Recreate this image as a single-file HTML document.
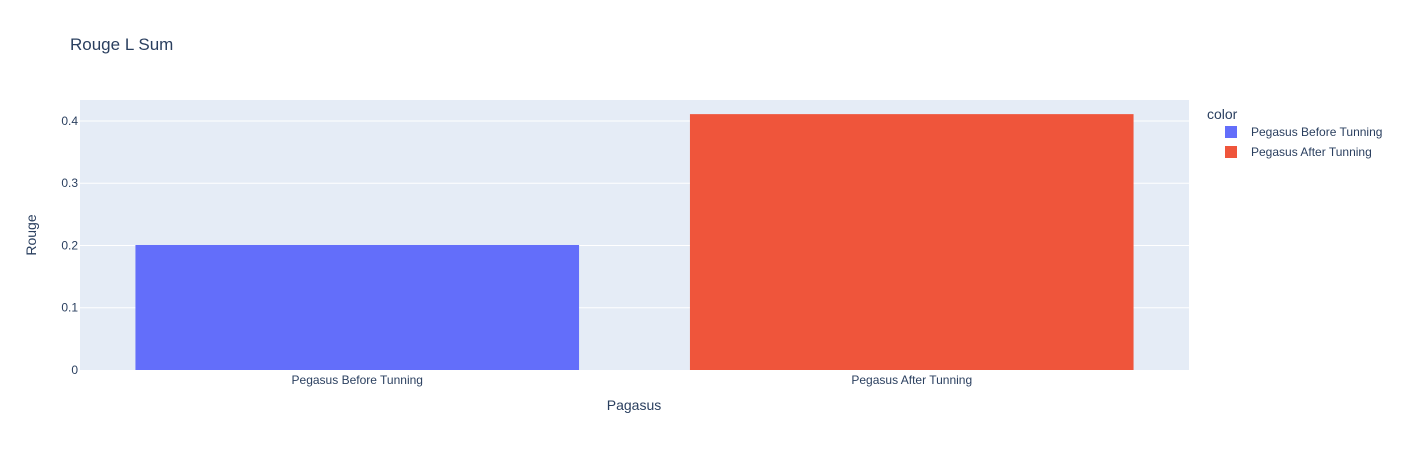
<!DOCTYPE html>
<html><head><meta charset="utf-8"><style>
body{margin:0;background:#fff;font-family:"Liberation Sans",Arial,sans-serif;}
svg text{font-family:"Liberation Sans",Arial,sans-serif;}
</style></head><body>
<svg id="chart" width="1412" height="450" xmlns="http://www.w3.org/2000/svg">
<rect width="1412" height="450" fill="#fff"/>
<text x="70" y="50" font-size="17" fill="#2a3f5f">Rouge L Sum</text>
<rect x="80" y="100" width="1109" height="270" fill="#e5ecf6"/>
<g id="grid"></g><g id="bars"></g><g id="ticks"></g>
<text x="634" y="410" font-size="14" fill="#2a3f5f" text-anchor="middle">Pagasus</text>
<text transform="translate(36,235) rotate(-90)" font-size="14" fill="#2a3f5f" text-anchor="middle">Rouge</text>
<text x="1207" y="119" font-size="14" fill="#2a3f5f">color</text>
<g><rect x="1225" y="126" width="12" height="12" fill="#636efa"/><text x="1251" y="136" font-size="12" fill="#2a3f5f">Pegasus Before Tunning</text></g>
<g><rect x="1225" y="146" width="12" height="12" fill="#ef553b"/><text x="1251" y="156" font-size="12" fill="#2a3f5f">Pegasus After Tunning</text></g>
</svg>
<script>
const categories=["Pegasus Before Tunning","Pegasus After Tunning"];
const values=[0.2008,0.411];
const colors=["#636efa","#ef553b"];
const yTicks=[0,0.1,0.2,0.3,0.4];
const yTickLabels=["0","0.1","0.2","0.3","0.4"];
const NS="http://www.w3.org/2000/svg";
const L=80,R=1189,T=100,B=370,yMax=0.4337;
const y=v=>B-(v/yMax)*(B-T);
const band=(R-L)/categories.length;
const x=i=>L+band*(i+0.5);
const grid=document.getElementById('grid'),bars=document.getElementById('bars'),ticks=document.getElementById('ticks');
function mk(tag,attrs,parent){const e=document.createElementNS(NS,tag);for(const k in attrs)e.setAttribute(k,attrs[k]);parent.appendChild(e);return e;}
yTicks.forEach((t,i)=>{
  if(t>0){const g=mk('line',{x1:L,x2:R,y1:y(t),y2:y(t),stroke:'#fff','stroke-width':1},grid);
  
  }
  const tx=mk('text',{x:L-2,y:y(t)+4,'font-size':12,fill:'#2a3f5f','text-anchor':'end'},ticks);
  tx.textContent=yTickLabels[i];
  
  
});
categories.forEach((c,i)=>{
  const w=band*0.8;
  const r=mk('rect',{x:x(i)-w/2,y:y(values[i]),width:w,height:B-y(values[i]),fill:colors[i]},bars);
  
  
  const tx=mk('text',{x:x(i),y:B+14,'font-size':12,fill:'#2a3f5f','text-anchor':'middle'},ticks);
  tx.textContent=c;
  
  
});
</script>
</body></html>
